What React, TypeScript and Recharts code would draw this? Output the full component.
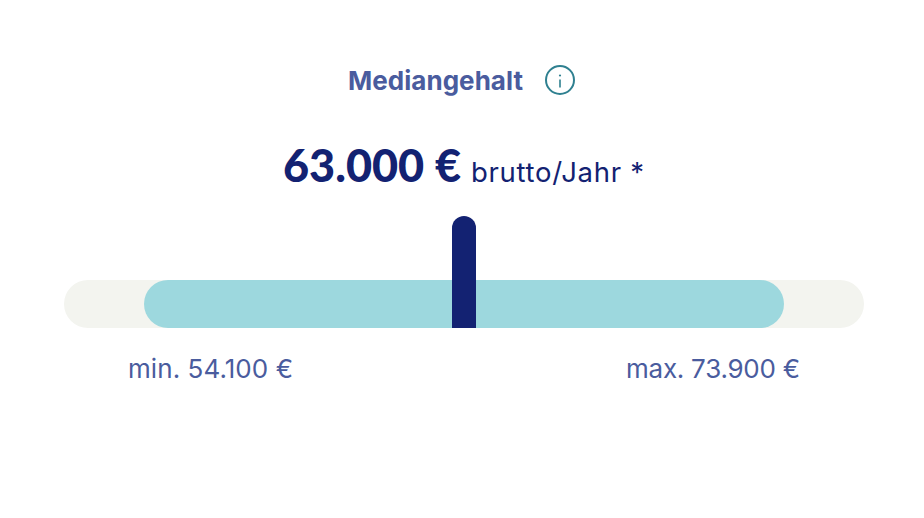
import React from "react";
import { BarChart, Bar, XAxis, YAxis } from "recharts";

// Marker positions as drawn, in percent of the full track width
const trackSpan: [number, number] = [0, 100];
const rangeSpan: [number, number] = [10, 90];
const medianPosition = 50;

const titleText = "Mediangehalt";
const medianText = "63.000 €";
const unitText = "brutto/Jahr *";
const minText = "min. 54.100 €";
const maxText = "max. 73.900 €";

const barRows = [{ name: "Gehalt", track: trackSpan, range: rangeSpan }];
const medianRows = [{ pos: medianPosition, height: 1 }];

const W = 924;
const H = 518;
const font = "Inter, sans-serif";
const NAVY = "#132272";
const BLUE = "#4a5c9e";

const layer: React.CSSProperties = { position: "absolute", left: 0, top: 0 };
const barMargin = { top: 270, right: 60, bottom: 180, left: 64 };

function SpanChart({ dataKey, fill }: { dataKey: string; fill: string }) {
  return (
    <div style={layer}>
      <BarChart width={W} height={H} data={barRows} layout="vertical" margin={barMargin} barCategoryGap={0}>
        <XAxis type="number" domain={[0, 100]} hide />
        <YAxis type="category" dataKey="name" hide />
        <Bar dataKey={dataKey} barSize={48} fill={fill} radius={24} isAnimationActive={false} />
      </BarChart>
    </div>
  );
}

export default function App() {
  return (
    <div style={{ position: "absolute", left: 0, top: 0, width: W, height: H, background: "#fff" }}>
      <SpanChart dataKey="track" fill="#f3f4ef" />
      <SpanChart dataKey="range" fill="#9dd8de" />
      <div style={layer}>
        <BarChart
          width={W}
          height={H}
          data={medianRows}
          margin={{ top: 216, right: 60, bottom: 190, left: 64 }}
        >
          <XAxis type="number" dataKey="pos" domain={[0, 100]} hide />
          <YAxis type="number" domain={[0, 1]} hide />
          <Bar dataKey="height" barSize={24} fill={NAVY} radius={[12, 12, 0, 0]} isAnimationActive={false} />
        </BarChart>
      </div>
      <svg width={W} height={H} style={{ ...layer, pointerEvents: "none" }}>
        <text x={348} y={90} fontFamily={font} fontSize={26} fontWeight={700} fill={BLUE} textLength={175}>{titleText}</text>
        <circle cx={560} cy={80} r={14} fill="none" stroke="#2f8090" strokeWidth={2} />
        <circle cx={560} cy={75.5} r={1.1} fill="#2f8090" />
        <rect x={559.2} y={79.5} width={1.6} height={8} fill="#2f8090" />
        <text x={283} y={182} fontFamily="Lato, sans-serif" fontSize={45} fontWeight={900} fill={NAVY} textLength={178}>{medianText}</text>
        <text x={471} y={182} fontFamily={font} fontSize={27.5} fill={NAVY} textLength={173}>{unitText}</text>
        <text x={128} y={378} fontFamily={font} fontSize={26} fill={BLUE} textLength={165}>{minText}</text>
        <text x={626} y={378} fontFamily={font} fontSize={26} fill={BLUE} textLength={174}>{maxText}</text>
      </svg>
    </div>
  );
}
